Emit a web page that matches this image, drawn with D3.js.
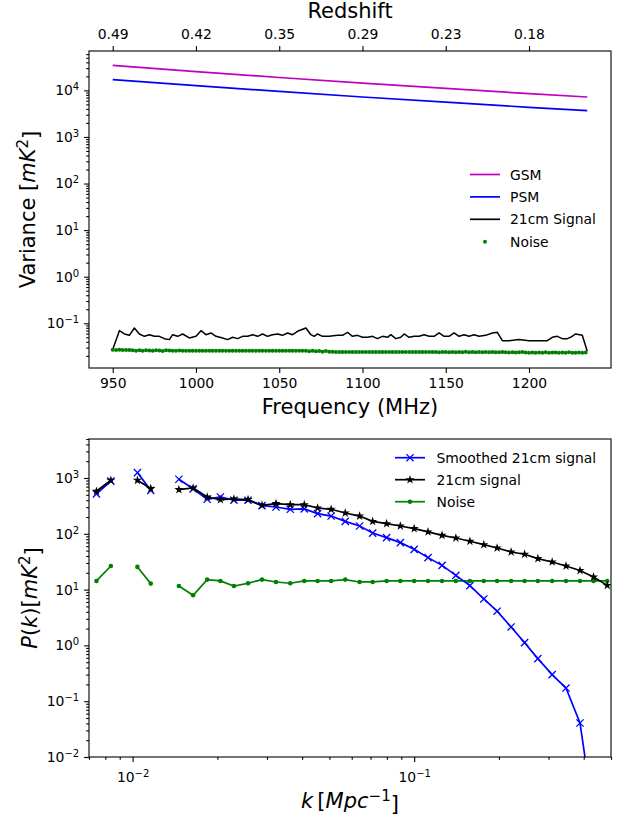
<!DOCTYPE html>
<html><head><meta charset="utf-8">
<script src="https://cdn.jsdelivr.net/npm/d3@7"></script>
<style>body{margin:0;background:#fff}svg{display:block}text{font-family:"DejaVu Sans",sans-serif;fill:#000}</style>
</head><body><svg id="c" width="618" height="818"></svg>
<script>
// ---------------- DATA ----------------
const fgFreq = [950, 1000, 1050, 1100, 1150, 1200, 1235];
const gsmVar = [34300, 25300, 18900, 14300, 11000, 8500, 7200];
const psmVar = [17000, 12600, 9470, 7210, 5570, 4330, 3660];

const sigFreq = [950,954,957,960,963,966,969,972,975,978,981,984,986,989,992,996,1000,1003,1006,1009,1012,1016,1019,1022,1025,1028,1031,1034,1037,1040,1043,1046,1049,1052,1055,1058,1061,1066,1069,1071,1073,1076,1080,1085,1088,1091,1094,1097,1100,1103,1106,1109,1112,1115,1117,1120,1123,1125,1128,1131,1134,1137,1140,1143,1146,1149,1152,1155,1158,1161,1164,1167,1170,1174,1178,1181,1184,1188,1194,1200,1206,1211,1214,1217,1220,1223,1225,1228,1232,1235];
const sigVar = [0.0272,0.0695,0.0589,0.0551,0.0792,0.0589,0.0525,0.0569,0.0525,0.0525,0.0468,0.0446,0.0569,0.0525,0.0589,0.0484,0.0525,0.0695,0.0569,0.062,0.0525,0.0484,0.0446,0.05,0.0468,0.0525,0.0525,0.0569,0.0525,0.0589,0.0525,0.0569,0.0589,0.0551,0.062,0.0569,0.0673,0.0792,0.0569,0.0525,0.0589,0.0525,0.0525,0.0551,0.0551,0.0641,0.0525,0.0551,0.05,0.05,0.0525,0.0468,0.0525,0.05,0.0569,0.0468,0.05,0.0589,0.05,0.0525,0.0525,0.0569,0.0525,0.0525,0.062,0.0525,0.0525,0.062,0.0525,0.0569,0.0525,0.0569,0.0525,0.0551,0.062,0.0641,0.0424,0.0424,0.0446,0.0424,0.0424,0.0424,0.05,0.0525,0.0468,0.0468,0.05,0.0589,0.0551,0.0251];

const noiseFreq = d3.range(950, 1235, 2); // 2 MHz channels
const noiseVar = [
0.0270,0.0268,0.0269,0.0267,0.0268,0.0266,
0.0264,0.0258,0.0265,0.0257,0.0263,0.0262,0.0256,0.0264,0.0259,0.0255,0.0263,0.0261,0.0256,0.0258,0.0259,
0.0258,0.0257,0.0257,0.0256,0.0258,0.0257,0.0256,0.0257,0.0258,0.0256,
0.0257,0.0257,0.0256,0.0258,0.0257,0.0256,0.0257,0.0257,0.0258,0.0256,
0.0257,0.0256,0.0257,0.0258,0.0257,0.0256,0.0257,0.0256,0.0258,0.0257,
0.0256,0.0257,0.0257,0.0256,0.0258,0.0257,0.0256,0.0257,0.0252,0.0258,
0.0250,0.0255,
0.0246,0.0253,0.0244,0.0245,0.0243,
0.0243,0.0242,0.0242,0.0243,0.0242,0.0241,0.0242,0.0243,0.0242,0.0242,
0.0241,0.0242,0.0243,0.0242,0.0242,0.0241,0.0242,0.0242,0.0243,0.0242,
0.0241,0.0242,0.0242,0.0243,0.0242,0.0242,0.0241,0.0242,
0.0241,0.0242,0.0240,0.0241,0.0242,0.0240,0.0241,0.0240,0.0242,0.0240,
0.0244,0.0238,0.0243,0.0240,0.0241,0.0239,0.0242,0.0240,0.0241,0.0239,
0.0240,0.0241,0.0239,0.0236,0.0240,0.0235,0.0238,0.0241,0.0236,0.0234,
0.0235,0.0233,0.0236,0.0234,0.0238,0.0233,0.0235,0.0237,0.0232,0.0236,
0.0234,0.0238,0.0233,0.0234,0.0236,0.0233,0.0237];

const freqTicks = [950, 1000, 1050, 1100, 1150, 1200];
const redshiftLabels = ["0.49", "0.42", "0.35", "0.29", "0.23", "0.18"];
const topYMajor = [-1, 0, 1, 2, 3, 4];

const kBins = [0.00744,0.00837,0.0093,0.0104,0.0116,0.0130,0.0146,0.0164,0.0184,0.0205,0.0229,0.0257,0.0288,0.0323,0.0363,0.0407,0.0454,0.0507,0.0569,0.0640,0.0712,0.0798,0.0893,0.1000,0.1120,0.1256,0.1406,0.1577,0.1767,0.1970,0.2209,0.2466,0.2749,0.3090,0.3460,0.3880,0.4335,0.4850];
const pkSmoothed = [520,880,null,1250,600,null,950,640,415,457,400,400,320,302,275,280,230,208,167,138,103,85.5,69.5,52.7,37.4,27.2,18.0,11.8,6.8,4.1,2.14,1.12,0.58,0.30,0.172,0.0407,0.0009,0.00002];
const pkSignal = [578,910,null,910,646,null,620,662,457,410,420,410,324,348,333,333,290,275,236,208,167,152,138,124,108,94,84,73.5,64,55.7,47.2,43,36,31.3,26.5,22,16.8,11.9];
const pkNoise = [14.3,26.5,null,25.5,12.8,null,11.6,7.9,15.1,14.3,11.6,13.0,15.1,13.7,13.0,14.3,14.3,14.3,15.1,13.7,13.7,14.3,14.3,14.3,14.3,14.3,14.3,14.3,14.3,14.3,14.3,14.3,14.3,14.3,14.3,14.3,14.3,14.3];
const botXMajor = [-2, -1];
const botYMajor = [-2, -1, 0, 1, 2, 3];

// ---------------- DRAW ----------------
const svg = d3.select("#c");
const C = {m: "#bf00bf", b: "#0000ff", k: "#000000", g: "#008000"};
const TICKFS = 13.9, LABFS = 21;

const T = {l: 89, r: 611, t: 51, b: 368};
const B = {l: 89, r: 611, t: 439, b: 757};

const xT = d3.scaleLinear().domain([935.75, 1249.25]).range([T.l, T.r]);
const yT = d3.scaleLog().domain([Math.pow(10, -1.96), Math.pow(10, 4.845)]).range([T.b, T.t]);
const xB = d3.scaleLog().domain([0.007, 0.5]).range([B.l, B.r]);
const yB = d3.scaleLog().domain([0.01, 5000]).range([B.b, B.t]);

const defs = svg.append("defs");
defs.append("clipPath").attr("id", "clipT").append("rect").attr("x", T.l).attr("y", T.t).attr("width", T.r - T.l).attr("height", T.b - T.t);
defs.append("clipPath").attr("id", "clipB").append("rect").attr("x", B.l).attr("y", B.t).attr("width", B.r - B.l).attr("height", B.b - B.t);

function minors(scale) {
  const [a, b] = scale.domain();
  const out = [];
  for (let e = Math.floor(Math.log10(a)) - 1; e <= Math.ceil(Math.log10(b)); e++)
    for (let s = 2; s <= 9; s++) { const v = s * Math.pow(10, e); if (v >= a && v <= b) out.push(v); }
  return out;
}
function styleAxis(g) {
  g.select(".domain").remove();
  g.selectAll(".tick line").attr("stroke", "#000").attr("stroke-width", 1.1);
  g.selectAll(".tick text").attr("font-size", TICKFS).attr("font-family", '"DejaVu Sans", sans-serif').attr("fill", "#000");
  g.attr("font-family", null).attr("font-size", null);
}
function supLabels(g) {
  g.selectAll(".tick text").each(function(d) {
    const e = Math.round(Math.log10(d));
    const t = d3.select(this); t.text(null);
    t.append("tspan").text("10");
    t.append("tspan").attr("dy", "-0.5em").attr("font-size", "0.72em").text(e < 0 ? "\u2212" + (-e) : String(e));
  });
}

// ---- TOP PLOT axes ----
svg.append("g").attr("transform", `translate(0,${T.b})`)
  .call(d3.axisBottom(xT).tickValues(freqTicks).tickSize(4.9).tickPadding(5.5).tickFormat(d3.format("d"))).call(styleAxis);
svg.append("g").attr("transform", `translate(0,${T.t})`)
  .call(d3.axisTop(xT).tickValues(freqTicks).tickSize(4.9).tickPadding(7.5).tickFormat((d, i) => redshiftLabels[i])).call(styleAxis);
svg.append("g").attr("transform", `translate(${T.l},0)`)
  .call(d3.axisLeft(yT).tickValues(minors(yT)).tickSize(2.8).tickFormat("")).call(styleAxis);
svg.append("g").attr("transform", `translate(${T.l},0)`)
  .call(d3.axisLeft(yT).tickValues(topYMajor.map(e => Math.pow(10, e))).tickSize(4.9).tickPadding(4.9)).call(styleAxis).call(supLabels);

const gT = svg.append("g").attr("clip-path", "url(#clipT)");
const lineT = d3.line().x(d => xT(d[0])).y(d => yT(d[1]));
gT.append("path").datum(fgFreq.map((f, i) => [f, gsmVar[i]])).attr("d", lineT).attr("fill", "none").attr("stroke", C.m).attr("stroke-width", 1.7);
gT.append("path").datum(fgFreq.map((f, i) => [f, psmVar[i]])).attr("d", lineT).attr("fill", "none").attr("stroke", C.b).attr("stroke-width", 1.7);
gT.append("path").datum(sigFreq.map((f, i) => [f, sigVar[i]])).attr("d", lineT).attr("fill", "none").attr("stroke", C.k).attr("stroke-width", 1.5).attr("stroke-linejoin", "round");
gT.selectAll("circle.noise").data(noiseFreq.map((f, i) => [f, noiseVar[i]])).join("circle")
  .attr("cx", d => xT(d[0])).attr("cy", d => yT(d[1])).attr("r", 2).attr("fill", C.g);

svg.append("rect").attr("x", T.l).attr("y", T.t).attr("width", T.r - T.l).attr("height", T.b - T.t)
  .attr("fill", "none").attr("stroke", "#000").attr("stroke-width", 1.1);

// top legend
const legT = [{n: "GSM", c: C.m, t: "line"}, {n: "PSM", c: C.b, t: "line"}, {n: "21cm Signal", c: C.k, t: "line"}, {n: "Noise", c: C.g, t: "dot"}];
legT.forEach((d, i) => {
  const y = 174.5 + i * 22.4;
  if (d.t === "line") svg.append("line").attr("x1", 470).attr("x2", 500).attr("y1", y).attr("y2", y).attr("stroke", d.c).attr("stroke-width", 1.7);
  else svg.append("circle").attr("cx", 485).attr("cy", y).attr("r", 2).attr("fill", d.c);
  svg.append("text").attr("x", 510).attr("y", y).attr("dy", "0.36em").attr("font-size", TICKFS).text(d.n);
});

// top labels
svg.append("text").attr("x", (T.l + T.r) / 2).attr("y", 18).attr("text-anchor", "middle").attr("font-size", LABFS).text("Redshift");
svg.append("text").attr("x", (T.l + T.r) / 2).attr("y", 414).attr("text-anchor", "middle").attr("font-size", LABFS).text("Frequency (MHz)");
{
  const t = svg.append("text").attr("transform", `translate(35,${(T.t + T.b) / 2}) rotate(-90)`).attr("text-anchor", "middle").attr("font-size", LABFS);
  t.append("tspan").text("Variance [");
  t.append("tspan").attr("font-style", "italic").text("mK");
  t.append("tspan").attr("dy", "-0.45em").attr("font-size", "0.72em").text("2");
  t.append("tspan").attr("dy", "0.45em").text("]");
}

// ---- BOTTOM PLOT axes ----
svg.append("g").attr("transform", `translate(0,${B.b})`)
  .call(d3.axisBottom(xB).tickValues(minors(xB)).tickSize(2.8).tickFormat("")).call(styleAxis);
svg.append("g").attr("transform", `translate(0,${B.b})`)
  .call(d3.axisBottom(xB).tickValues(botXMajor.map(e => Math.pow(10, e))).tickSize(4.9).tickPadding(10)).call(styleAxis).call(supLabels);
svg.append("g").attr("transform", `translate(${B.l},0)`)
  .call(d3.axisLeft(yB).tickValues(minors(yB)).tickSize(2.8).tickFormat("")).call(styleAxis);
svg.append("g").attr("transform", `translate(${B.l},0)`)
  .call(d3.axisLeft(yB).tickValues(botYMajor.map(e => Math.pow(10, e))).tickSize(4.9).tickPadding(4.9)).call(styleAxis).call(supLabels);

const gB = svg.append("g").attr("clip-path", "url(#clipB)");
const lineB = d3.line().defined(d => d[1] != null).x(d => xB(d[0])).y(d => yB(d[1]));
const starPath = d3.symbol().type(d3.symbolStar).size(26)();
function xMark(g, x, y, c) {
  const s = 3.6;
  g.append("path").attr("d", `M${x - s},${y - s}L${x + s},${y + s}M${x - s},${y + s}L${x + s},${y - s}`).attr("stroke", c).attr("stroke-width", 1.3).attr("fill", "none");
}
const smoothPts = kBins.map((k, i) => [k, pkSmoothed[i]]);
const sigPts = kBins.map((k, i) => [k, pkSignal[i]]);
const noisePts = kBins.map((k, i) => [k, pkNoise[i]]);

gB.append("path").datum(noisePts).attr("d", lineB).attr("fill", "none").attr("stroke", C.g).attr("stroke-width", 1.7);
noisePts.filter(d => d[1] != null).forEach(d => gB.append("circle").attr("cx", xB(d[0])).attr("cy", yB(d[1])).attr("r", 2.3).attr("fill", C.g));
gB.append("path").datum(smoothPts).attr("d", lineB).attr("fill", "none").attr("stroke", C.b).attr("stroke-width", 1.7);
smoothPts.filter(d => d[1] != null).forEach(d => xMark(gB, xB(d[0]), yB(d[1]), C.b));
gB.append("path").datum(sigPts).attr("d", lineB).attr("fill", "none").attr("stroke", C.k).attr("stroke-width", 1.7);
sigPts.filter(d => d[1] != null).forEach(d => gB.append("path").attr("d", starPath).attr("transform", `translate(${xB(d[0])},${yB(d[1])})`).attr("fill", C.k));

svg.append("rect").attr("x", B.l).attr("y", B.t).attr("width", B.r - B.l).attr("height", B.b - B.t)
  .attr("fill", "none").attr("stroke", "#000").attr("stroke-width", 1.1);

// bottom legend
const legB = [{n: "Smoothed 21cm signal", c: C.b, m: "x"}, {n: "21cm signal", c: C.k, m: "star"}, {n: "Noise", c: C.g, m: "dot"}];
legB.forEach((d, i) => {
  const y = 457.7 + i * 22;
  svg.append("line").attr("x1", 395).attr("x2", 425).attr("y1", y).attr("y2", y).attr("stroke", d.c).attr("stroke-width", 1.7);
  if (d.m === "x") xMark(svg, 410, y, d.c);
  else if (d.m === "star") svg.append("path").attr("d", starPath).attr("transform", `translate(410,${y})`).attr("fill", d.c);
  else svg.append("circle").attr("cx", 410).attr("cy", y).attr("r", 2.3).attr("fill", d.c);
  svg.append("text").attr("x", 436.5).attr("y", y).attr("dy", "0.36em").attr("font-size", TICKFS).text(d.n);
});

// bottom labels
{
  const t = svg.append("text").attr("x", (B.l + B.r) / 2).attr("y", 808).attr("text-anchor", "middle").attr("font-size", LABFS);
  t.append("tspan").attr("font-style", "italic").text("k");
  t.append("tspan").text("\u2009[");
  t.append("tspan").attr("font-style", "italic").text("Mpc");
  t.append("tspan").attr("dy", "-0.45em").attr("font-size", "0.72em").text("\u22121");
  t.append("tspan").attr("dy", "0.45em").text("]");
}
{
  const t = svg.append("text").attr("transform", `translate(37,${(B.t + B.b) / 2}) rotate(-90)`).attr("text-anchor", "middle").attr("font-size", LABFS);
  t.append("tspan").attr("font-style", "italic").text("P");
  t.append("tspan").text("(");
  t.append("tspan").attr("font-style", "italic").text("k");
  t.append("tspan").text(")[");
  t.append("tspan").attr("font-style", "italic").text("mK");
  t.append("tspan").attr("dy", "-0.45em").attr("font-size", "0.72em").text("2");
  t.append("tspan").attr("dy", "0.45em").text("]");
}
</script></body></html>
